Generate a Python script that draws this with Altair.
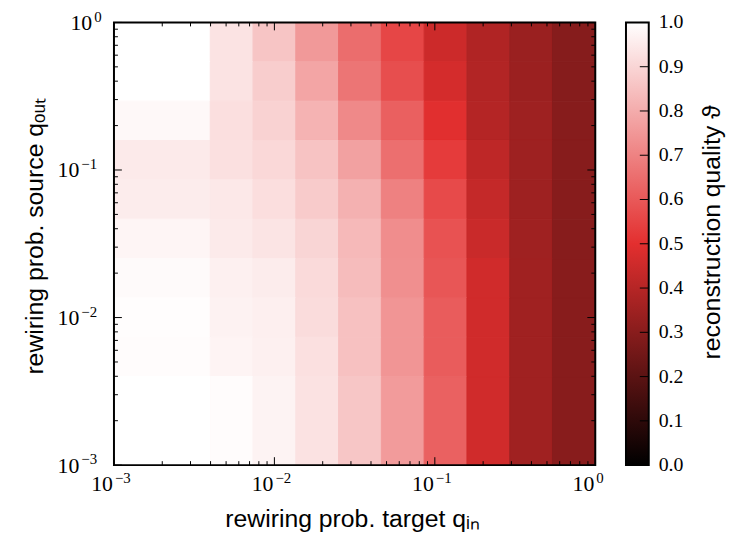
import altair as alt
import pandas as pd

# cell edges (same for q_in and q_out), log-spaced
q_edges = [0.001, 0.003981, 0.007356, 0.013594, 0.025119, 0.046416,
           0.085770, 0.158489, 0.292864, 0.541170, 1.0]

# reconstruction quality, rows from top (q_out ~ 1) to bottom (q_out ~ 0.001),
# columns from left (q_in ~ 0.001) to right (q_in ~ 1)
row01 = [1.000, 0.933, 0.860, 0.755, 0.650, 0.555, 0.449, 0.388, 0.340, 0.295]
row02 = [1.000, 0.933, 0.879, 0.783, 0.669, 0.574, 0.467, 0.392, 0.342, 0.295]
row03 = [0.983, 0.924, 0.893, 0.817, 0.717, 0.617, 0.495, 0.396, 0.348, 0.297]
row04 = [0.950, 0.926, 0.907, 0.855, 0.774, 0.655, 0.530, 0.418, 0.348, 0.297]
row05 = [0.955, 0.945, 0.921, 0.874, 0.812, 0.698, 0.564, 0.432, 0.348, 0.298]
row06 = [0.975, 0.950, 0.936, 0.898, 0.831, 0.726, 0.583, 0.443, 0.350, 0.298]
row07 = [0.988, 0.964, 0.955, 0.912, 0.840, 0.731, 0.593, 0.458, 0.352, 0.300]
row08 = [0.995, 0.969, 0.962, 0.917, 0.850, 0.745, 0.607, 0.458, 0.352, 0.300]
row09 = [0.993, 0.974, 0.964, 0.926, 0.850, 0.745, 0.607, 0.458, 0.352, 0.300]
row10 = [1.000, 0.993, 0.971, 0.931, 0.864, 0.760, 0.621, 0.458, 0.352, 0.300]
rows = [row01, row02, row03, row04, row05, row06, row07, row08, row09, row10]

major_ticks = [0.001, 0.01, 0.1, 1.0]
tick_exponents = ["\u22123", "\u22122", "\u22121", "0"]
minor_ticks = [0.002, 0.003, 0.004, 0.005, 0.006, 0.007, 0.008, 0.009,
               0.02, 0.03, 0.04, 0.05, 0.06, 0.07, 0.08, 0.09,
               0.2, 0.3, 0.4, 0.5, 0.6, 0.7, 0.8, 0.9]
cbar_ticks = [0.0, 0.1, 0.2, 0.3, 0.4, 0.5, 0.6, 0.7, 0.8, 0.9, 1.0]

x_title = "rewiring prob. target qᵢₙ"
y_title = "rewiring prob. source qₒᵤₜ"
cb_title = "reconstruction quality ϑ"

cmap_black = "#000000"
cmap_red = "#e32f2f"
cmap_white = "#ffffff"

W, H = 486, 447
CB_X0, CB_X1 = 517, 540
MAJ, MIN = 8, 4
SERIF = "Liberation Serif"
SANS = "Liberation Sans"
BASE_FS, EXP_FS, CB_FS, TITLE_FS = 22, 15, 20, 25

records = []
n = len(rows)
for i, row in enumerate(rows):
    yi = n - 1 - i
    for j, v in enumerate(row):
        records.append({"x0": q_edges[j], "x1": q_edges[j + 1],
                        "y0": q_edges[yi], "y1": q_edges[yi + 1], "v": v})
cells = pd.DataFrame(records)
major_df = pd.DataFrame({"q": major_ticks, "e": tick_exponents})
minor_df = pd.DataFrame({"q": minor_ticks})
cbar_df = pd.DataFrame({"v": cbar_ticks})
one = pd.DataFrame({"a": [0]})

xscale = alt.Scale(type="log", domain=[0.001, 1], nice=False)
yscale = alt.Scale(type="log", domain=[0.001, 1], nice=False)
color_scale = alt.Scale(domain=[0, 0.5, 1], range=[cmap_black, cmap_red, cmap_white],
                        interpolate="rgb")

heat = alt.Chart(cells).mark_rect(strokeWidth=1).encode(
    x=alt.X("x0:Q", scale=xscale, axis=None),
    x2="x1:Q",
    y=alt.Y("y0:Q", scale=yscale, axis=None),
    y2="y1:Q",
    color=alt.Color("v:Q", scale=color_scale, legend=None),
    stroke=alt.Stroke("v:Q", scale=color_scale, legend=None),
)


def xticks(df, L):
    bottom = alt.Chart(df).mark_rule(color="black", strokeWidth=1).encode(
        x=alt.X("q:Q", scale=xscale, axis=None), y=alt.value(H), y2=alt.value(H - L))
    top = alt.Chart(df).mark_rule(color="black", strokeWidth=1).encode(
        x=alt.X("q:Q", scale=xscale, axis=None), y=alt.value(0), y2=alt.value(L))
    return [bottom, top]


def yticks(df, L):
    left = alt.Chart(df).mark_rule(color="black", strokeWidth=1).encode(
        y=alt.Y("q:Q", scale=yscale, axis=None), x=alt.value(0), x2=alt.value(L))
    right = alt.Chart(df).mark_rule(color="black", strokeWidth=1).encode(
        y=alt.Y("q:Q", scale=yscale, axis=None), x=alt.value(W), x2=alt.value(W - L))
    return [left, right]


border = alt.Chart(one).mark_rect(fillOpacity=0, stroke="black", strokeWidth=2).encode(
    x=alt.value(0), x2=alt.value(W), y=alt.value(0), y2=alt.value(H))

# tick labels 10^k : base "10" and a raised exponent
xlab_base = alt.Chart(major_df).mark_text(
    text="10", font=SERIF, fontSize=BASE_FS, align="right", baseline="alphabetic",
    dx=-1, color="black").encode(
    x=alt.X("q:Q", scale=xscale, axis=None), y=alt.value(H + 26))
xlab_exp = alt.Chart(major_df).mark_text(
    font=SERIF, fontSize=EXP_FS, align="left", baseline="alphabetic",
    dx=1, color="black").encode(
    x=alt.X("q:Q", scale=xscale, axis=None), y=alt.value(H + 18), text="e:N")

neg = "datum.q < 0.5"
pos = "datum.q >= 0.5"
ylab_base_neg = alt.Chart(major_df).transform_filter(neg).mark_text(
    text="10", font=SERIF, fontSize=BASE_FS, align="right", baseline="alphabetic",
    dy=7.5, color="black").encode(
    y=alt.Y("q:Q", scale=yscale, axis=None), x=alt.value(-35))
ylab_exp_neg = alt.Chart(major_df).transform_filter(neg).mark_text(
    font=SERIF, fontSize=EXP_FS, align="left", baseline="alphabetic",
    dy=-1, color="black").encode(
    y=alt.Y("q:Q", scale=yscale, axis=None), x=alt.value(-33), text="e:N")
ylab_base_pos = alt.Chart(major_df).transform_filter(pos).mark_text(
    text="10", font=SERIF, fontSize=BASE_FS, align="right", baseline="alphabetic",
    dy=7.5, color="black").encode(
    y=alt.Y("q:Q", scale=yscale, axis=None), x=alt.value(-22))
ylab_exp_pos = alt.Chart(major_df).transform_filter(pos).mark_text(
    font=SERIF, fontSize=EXP_FS, align="left", baseline="alphabetic",
    dy=0, color="black").encode(
    y=alt.Y("q:Q", scale=yscale, axis=None), x=alt.value(-20), text="e:N")

xtitle = alt.Chart(one).mark_text(
    text=x_title, font=SANS, fontSize=TITLE_FS, align="center", baseline="alphabetic",
    color="black").encode(x=alt.value(241), y=alt.value(H + 62))
ytitle = alt.Chart(one).mark_text(
    text=y_title, font=SANS, fontSize=TITLE_FS, align="center", baseline="alphabetic",
    angle=270, color="black").encode(x=alt.value(-72), y=alt.value(216))

main = alt.layer(heat, *xticks(major_df, MAJ), *xticks(minor_df, MIN),
                 *yticks(major_df, MAJ), *yticks(minor_df, MIN), border,
                 xlab_base, xlab_exp, ylab_base_neg, ylab_exp_neg,
                 ylab_base_pos, ylab_exp_pos, xtitle, ytitle)

gradient = alt.LinearGradient(
    gradient="linear",
    stops=[alt.GradientStop(color=cmap_black, offset=0),
           alt.GradientStop(color=cmap_red, offset=0.5),
           alt.GradientStop(color=cmap_white, offset=1)],
    x1=0, x2=0, y1=1, y2=0)

cb_scale = alt.Scale(domain=[0, 1], nice=False)
cb_rect = alt.Chart(one).mark_rect(color=gradient, stroke="black", strokeWidth=2).encode(
    x=alt.value(CB_X0), x2=alt.value(CB_X1), y=alt.value(0), y2=alt.value(H))
cb_ticks = alt.Chart(cbar_df).mark_rule(color="black", strokeWidth=1).encode(
    y=alt.Y("v:Q", scale=cb_scale, axis=None),
    x=alt.value(CB_X1), x2=alt.value(CB_X1 - 9))
cb_labels = alt.Chart(cbar_df).mark_text(
    font=SERIF, fontSize=CB_FS, align="left", baseline="middle", color="black").encode(
    y=alt.Y("v:Q", scale=cb_scale, axis=None), x=alt.value(CB_X1 + 10),
    text=alt.Text("v:Q", format=".1f"))
cb_title_mark = alt.Chart(one).mark_text(
    text=cb_title, font=SANS, fontSize=TITLE_FS, align="center", baseline="alphabetic",
    angle=270, color="black").encode(x=alt.value(612), y=alt.value(212))

cbar = alt.layer(cb_rect, cb_ticks, cb_labels, cb_title_mark)

chart = alt.layer(main, cbar).resolve_scale(y="independent").properties(
    width=W, height=H,
    autosize=alt.AutoSizeParams(type="none"),
    padding={"left": 107, "top": 12, "right": 132, "bottom": 70},
    background="white",
).configure_view(stroke=None)

chart.save("out.html", embed_options={"renderer": "svg", "actions": False})
